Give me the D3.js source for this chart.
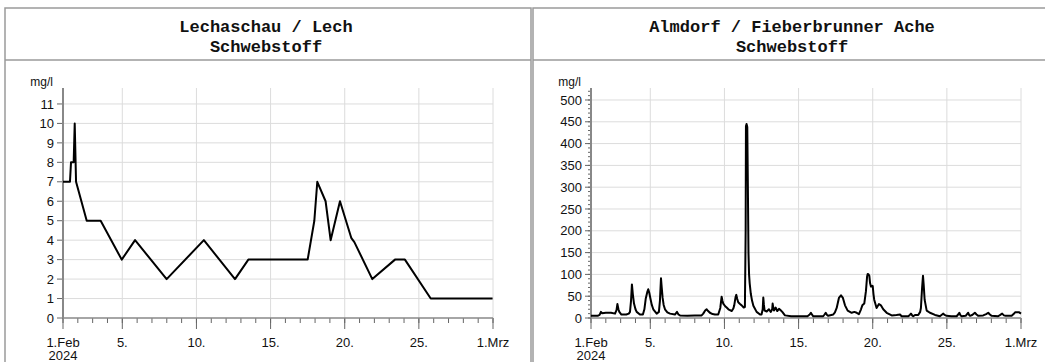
<!DOCTYPE html>
<html><head><meta charset="utf-8">
<script src="https://cdn.jsdelivr.net/npm/d3@7"></script>
<style>body{margin:0;background:#fff} svg{display:block}</style>
</head><body><svg id="c" width="1045" height="362"></svg>
<script>
// ---------- data ----------
const startDate = "2024-02-01";
const endDate = "2024-03-01";
const unitLabel = "mg/l";
const lechTitle = ["Lechaschau / Lech", "Schwebstoff"];
const almTitle = ["Almdorf / Fieberbrunner Ache", "Schwebstoff"];

// days after 1.Feb 00:00
const lechDays   = [0, 0.47, 0.54, 0.72, 0.79, 0.88, 1.6, 2.54, 3.96, 4.86, 6.99, 9.5, 11.6, 12.5, 16.5, 16.95, 17.15, 17.71, 18.05, 18.68, 19.45, 19.65, 20.86, 22.39, 23.06, 24.8, 28.97];
const lechValues = [7, 7, 8, 8, 10, 7, 5, 5, 3, 4, 2, 4, 2, 3, 3, 5, 7, 6, 4, 6, 4.1, 3.9, 2, 3, 3, 1, 1];

const almDays = [0.0,0.45,0.58,0.67,0.75,1.0,1.35,1.62,1.72,1.78,1.85,1.91,2.05,2.38,2.55,2.63,2.7,2.76,2.82,2.9,3.0,3.08,3.3,3.5,3.6,3.69,3.8,3.86,3.93,4.0,4.1,4.2,4.43,4.58,4.65,4.72,4.77,4.83,4.9,4.99,5.15,5.33,5.66,5.8,5.9,6.0,6.5,7.0,7.46,7.57,7.7,7.8,7.9,8.02,8.2,8.36,8.58,8.72,8.81,8.86,8.92,9.05,9.15,9.3,9.49,9.6,9.66,9.75,9.8,9.86,9.93,10.05,10.16,10.3,10.38,10.43,10.45,10.49,10.54,10.58,10.62,10.66,10.7,10.78,10.86,10.95,11.17,11.4,11.5,11.58,11.62,11.66,11.71,11.85,12.0,12.12,12.22,12.25,12.3,12.34,12.45,12.56,12.68,12.81,12.9,13.08,13.5,14.0,14.6,14.75,14.83,14.92,14.99,15.66,15.75,15.83,15.92,16.0,16.34,16.45,16.57,16.72,16.86,16.99,17.13,17.31,17.58,17.76,17.92,18.07,18.21,18.3,18.43,18.54,18.62,18.66,18.72,18.77,18.82,18.88,18.96,19.0,19.05,19.1,19.26,19.35,19.42,19.55,19.71,19.94,20.28,20.6,20.84,20.95,21.4,21.5,21.58,21.66,21.73,21.85,22.07,22.2,22.25,22.33,22.39,22.44,22.5,22.64,22.86,23.2,23.53,23.68,23.76,23.85,23.98,24.3,24.66,24.76,24.84,24.92,25.0,25.27,25.36,25.44,25.5,25.56,25.71,25.89,26.0,26.12,26.45,26.65,26.79,26.9,27.02,27.46,27.6,27.73,27.85,27.96,28.37,28.5,28.6,28.88,29.0];
const almValues = [5,5,7,14,11,12,12,10,18,32,20,14,8,8,10,14,40,77,55,33,20,14,8,8,20,44,60,66,58,46,30,20,10,14,40,91,70,46,30,20,13,10,8,14,8,6,5,6,6,10,17,20,16,12,9,8,8,23,49,40,33,27,24,19,16,22,29,48,53,44,36,32,29,24,25,200,440,445,438,300,150,100,80,55,40,28,14,8,8,20,47,30,17,15,20,14,20,33,22,17,24,16,21,17,14,6,4,4,4,8,12,7,4,4,8,12,7,5,8,13,23,46,52,46,29,17,12,14,12,9,20,29,33,61,95,101,100,97,80,72,74,73,55,42,23,28,32,29,20,12,6,7,8,4,4,7,10,6,4,7,7,14,23,70,97,75,42,17,12,7,4,8,10,7,5,4,4,8,12,6,4,5,9,12,7,5,7,12,8,5,6,9,12,8,5,4,7,10,6,5,5,9,13,13,10];

const lechYTicks = [0,1,2,3,4,5,6,7,8,9,10,11];
const almYTicks = [0,50,100,150,200,250,300,350,400,450,500];
const almYMinor = d3.range(0, 530, 10);
const xTickDates = ["2024-02-01","2024-02-05","2024-02-10","2024-02-15","2024-02-20","2024-02-25","2024-03-01"];
const xTickLabels = ["1.Feb","5.","10.","15.","20.","25.","1.Mrz"];
const yearLabel = "2024";

// ---------- drawing ----------
const svg = d3.select("#c");
const DAY = 86400000;
const t0 = new Date(startDate + "T00:00:00Z");
const t1 = new Date(endDate + "T00:00:00Z");
const labelFont = "'Liberation Sans', Arial, sans-serif";

function panel(cfg) {
  const g = svg.append("g");
  // frame
  g.append("rect").attr("x", cfg.px).attr("y", 8).attr("width", cfg.pw).attr("height", 400)
    .attr("fill", "none").attr("stroke", "#9a9a9a").attr("stroke-width", 1.5);
  g.append("line").attr("x1", cfg.px).attr("x2", cfg.px + cfg.pw).attr("y1", 60).attr("y2", 60)
    .attr("stroke", "#9a9a9a").attr("stroke-width", 1.5);
  cfg.title.forEach((t, i) => {
    g.append("text").attr("x", cfg.px + cfg.pw / 2 - 2).attr("y", 31.5 + i * 20)
      .attr("text-anchor", "middle").attr("font-family", "'Liberation Mono', monospace")
      .attr("font-weight", "bold").attr("font-size", 17).attr("fill", "#111").text(t);
  });

  const x = d3.scaleUtc().domain([t0, t1]).range([cfg.ax, cfg.ar]);
  const y = d3.scaleLinear().domain([0, cfg.ymax]).range([318, 88]);

  // grid
  const gridDates = xTickDates.slice(1).map(d => new Date(d + "T00:00:00Z"));
  g.selectAll(".vg").data(gridDates).enter().append("line")
    .attr("x1", d => x(d)).attr("x2", d => x(d)).attr("y1", 88).attr("y2", 318)
    .attr("stroke", "#dcdcdc").attr("stroke-width", 1);
  g.selectAll(".hg").data(cfg.yTicks.slice(1)).enter().append("line")
    .attr("x1", cfg.ax).attr("x2", cfg.ar).attr("y1", d => y(d)).attr("y2", d => y(d))
    .attr("stroke", "#dcdcdc").attr("stroke-width", 1);

  // y axis
  if (cfg.yMinor) {
    g.selectAll(".ym").data(cfg.yMinor.filter(v => y(v) >= 88)).enter().append("line")
      .attr("x1", cfg.ax - 3).attr("x2", cfg.ax).attr("y1", d => y(d)).attr("y2", d => y(d))
      .attr("stroke", "#666").attr("stroke-width", 1);
  }
  g.selectAll(".yt").data(cfg.yTicks).enter().append("line")
    .attr("x1", cfg.ax - 6).attr("x2", cfg.ax).attr("y1", d => y(d)).attr("y2", d => y(d))
    .attr("stroke", "#666").attr("stroke-width", 1);
  g.selectAll(".yl").data(cfg.yTicks).enter().append("text")
    .attr("x", cfg.ax - 9).attr("y", d => y(d)).attr("dy", "0.36em")
    .attr("text-anchor", "end").attr("font-family", labelFont).attr("font-size", 13)
    .attr("fill", "#111").text(d => d);
  g.append("text").attr("x", cfg.ax - 10).attr("y", 86).attr("text-anchor", "end")
    .attr("font-family", labelFont).attr("font-size", 12).attr("fill", "#111").text(unitLabel);

  // x axis ticks
  const days = d3.utcDay.range(t0, new Date(t1.getTime() + 1));
  g.selectAll(".xm").data(days).enter().append("line")
    .attr("x1", d => x(d)).attr("x2", d => x(d)).attr("y1", 318).attr("y2", 323)
    .attr("stroke", "#666").attr("stroke-width", 1);
  const majors = xTickDates.map(d => new Date(d + "T00:00:00Z"));
  g.selectAll(".xM").data(majors).enter().append("line")
    .attr("x1", d => x(d)).attr("x2", d => x(d)).attr("y1", 318).attr("y2", 329)
    .attr("stroke", "#666").attr("stroke-width", 1);
  g.selectAll(".xl").data(majors).enter().append("text")
    .attr("x", d => x(d)).attr("y", 347).attr("text-anchor", "middle")
    .attr("font-family", labelFont).attr("font-size", 13).attr("fill", "#111")
    .text((d, i) => xTickLabels[i]);
  g.append("text").attr("x", x(majors[0])).attr("y", 360).attr("text-anchor", "middle")
    .attr("font-family", labelFont).attr("font-size", 13).attr("fill", "#111").text(yearLabel);

  // axis lines
  g.append("line").attr("x1", cfg.ax).attr("x2", cfg.ax).attr("y1", 88).attr("y2", 318)
    .attr("stroke", "#888").attr("stroke-width", 2);
  g.append("line").attr("x1", cfg.ax).attr("x2", cfg.ar).attr("y1", 318).attr("y2", 318)
    .attr("stroke", "#888").attr("stroke-width", 1.5);

  // data line
  const pts = cfg.days.map((d, i) => [new Date(t0.getTime() + d * DAY), cfg.values[i]]);
  g.append("path").datum(pts)
    .attr("d", d3.line().x(p => x(p[0])).y(p => y(p[1])))
    .attr("fill", "none").attr("stroke", "#000").attr("stroke-width", 2)
    .attr("stroke-linejoin", "round");
}

panel({px: 5, pw: 526, ax: 63, ar: 493, ymax: 11.82, yTicks: lechYTicks,
       title: lechTitle, days: lechDays, values: lechValues});
panel({px: 533, pw: 522, ax: 591, ar: 1021, ymax: 527.5, yTicks: almYTicks, yMinor: almYMinor,
       title: almTitle, days: almDays, values: almValues});
</script>
</body></html>
